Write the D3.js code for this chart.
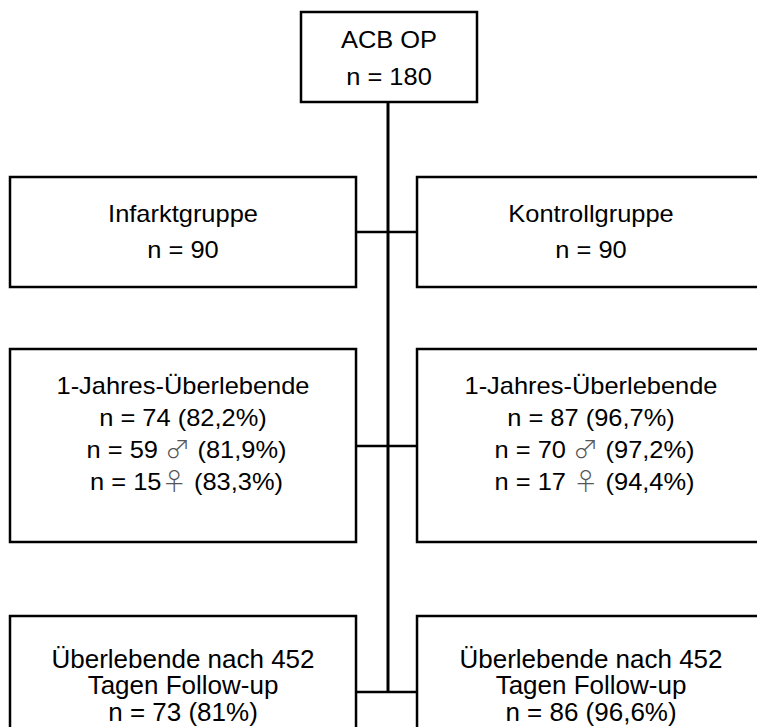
<!DOCTYPE html>
<html><head><meta charset="utf-8">
<script src="https://cdn.jsdelivr.net/npm/d3@7"></script>
<style>html,body{margin:0;padding:0;background:#fff;}svg{display:block;}</style>
</head><body>
<svg id="chart" width="757" height="727"></svg>
<script>
// ---- data ----
const rootLabel = "ACB OP";
const rootN = 180;
const groups = ["Infarktgruppe", "Kontrollgruppe"];
const groupN = [90, 90];
const survivors1yTitle = "1-Jahres-Überlebende";
const survivors1yN = [74, 87];
const survivors1yPct = ["82,2%", "96,7%"];
const maleN = [59, 70];
const malePct = ["81,9%", "97,2%"];
const femaleN = [15, 17];
const femalePct = ["83,3%", "94,4%"];
const followupTitle = ["Überlebende nach 452", "Tagen Follow-up"];
const followupN = [73, 86];
const followupPct = ["81%", "96,6%"];

// ---- layout ----
const svg = d3.select("#chart");
const FONT = "'Liberation Sans', Arial, sans-serif";
const SYM = "'Noto Sans CJK JP', 'DejaVu Sans', sans-serif";
const fs = 24, sx = 1.06;      // upper boxes
const fsB = 25, sxB = 1.04;    // bottom boxes

const x = d3.scaleLinear().domain([0, 1]).range([10, 765]);
const colBox = [[0, 0.4583], [0.5391, 1]]; // fractions of x-range
const cx = 388;

const levels = [
  {y0: 177, y1: 287, conn: 232, lines: [214, 250]},
  {y0: 349, y1: 542, conn: 446, lines: [386, 418, 450, 482]},
  {y0: 616, y1: 770, conn: 692, lines: [659, 685, 712]}
];

const g = svg.append("g");

g.append("line").attr("x1", cx).attr("x2", cx).attr("y1", 102).attr("y2", levels[2].conn)
  .attr("stroke", "#000").attr("stroke-width", 3);

g.append("rect").attr("x", 301).attr("y", 12).attr("width", 176).attr("height", 90)
  .attr("fill", "#fff").attr("stroke", "#000").attr("stroke-width", 2.5);

function addText(parts, px, py, size, scaleX) {
  const t = g.append("text")
    .attr("transform", `translate(${px},${py}) scale(${scaleX},1)`)
    .attr("dy", "0.35em")
    .attr("text-anchor", "middle").attr("font-family", FONT).attr("font-size", size)
    .attr("xml:space", "preserve").style("white-space", "pre");
  parts.forEach(p => {
    if (typeof p === "string") t.append("tspan").text(p);
    else t.append("tspan").attr("font-family", SYM).attr("font-weight", 300).attr("fill", "#555").text(p.sym);
  });
}

[rootLabel, "n = " + rootN].forEach((s, i) => addText([s], 389, [40, 77][i], fs, sx));

function boxLines(level, col) {
  if (level === 0) return [[groups[col]], ["n = " + groupN[col]]];
  if (level === 1) return [
    [survivors1yTitle],
    ["n = " + survivors1yN[col] + " (" + survivors1yPct[col] + ")"],
    [" n = " + maleN[col] + " ", {sym: "♂"}, " (" + malePct[col] + ")"],
    [" n = " + femaleN[col] + (col === 0 ? "" : " "), {sym: "♀"}, " (" + femalePct[col] + ")"]
  ];
  return [[followupTitle[0]], [followupTitle[1]], ["n = " + followupN[col] + " (" + followupPct[col] + ")"]];
}

levels.forEach((lv, li) => {
  g.append("line").attr("x1", x(colBox[0][1])).attr("x2", x(colBox[1][0]))
    .attr("y1", lv.conn).attr("y2", lv.conn).attr("stroke", "#000").attr("stroke-width", 2.5);
  [0, 1].forEach(col => {
    const bx0 = x(colBox[col][0]), bx1 = x(colBox[col][1]);
    g.append("rect").attr("x", bx0).attr("y", lv.y0).attr("width", bx1 - bx0).attr("height", lv.y1 - lv.y0)
      .attr("fill", "#fff").attr("stroke", "#000").attr("stroke-width", 2.5);
    const mid = (bx0 + bx1) / 2;
    boxLines(li, col).forEach((parts, k) => {
      if (li === 2) addText(parts, mid, lv.lines[k], fsB, sxB);
      else addText(parts, mid, lv.lines[k], fs, sx);
    });
  });
});
</script>
</body></html>
